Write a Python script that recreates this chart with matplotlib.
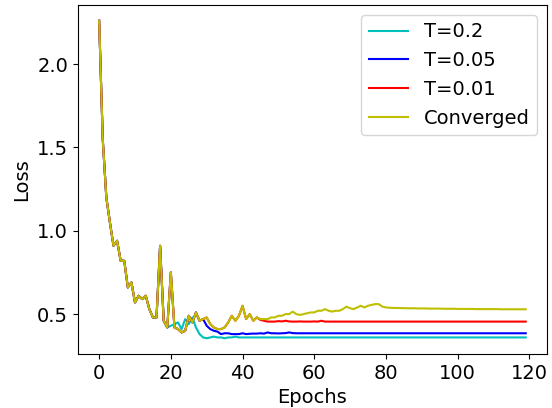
import matplotlib
matplotlib.use('Agg')
import matplotlib.pyplot as plt

# loss per epoch
converged = [
    2.26, 1.55, 1.20, 1.05, 0.91, 0.94, 0.82, 0.82, 0.66, 0.69,
    0.57, 0.61, 0.59, 0.61, 0.53, 0.48, 0.48, 0.91, 0.46, 0.42,
    0.75, 0.42, 0.41, 0.39, 0.40, 0.49, 0.45, 0.51, 0.46, 0.47,
    0.48, 0.44, 0.42, 0.41, 0.41, 0.42, 0.45, 0.49, 0.46, 0.49,
    0.55, 0.47, 0.50, 0.46, 0.48, 0.47, 0.47, 0.47, 0.48, 0.48,
    0.49, 0.49, 0.50, 0.50, 0.515, 0.50, 0.495, 0.50, 0.505, 0.51,
    0.51, 0.52, 0.52, 0.53, 0.52, 0.515, 0.52, 0.52, 0.53, 0.545,
    0.535, 0.53, 0.54, 0.55, 0.54, 0.55, 0.555, 0.56, 0.56, 0.545,
    0.54, 0.538, 0.537, 0.537, 0.536, 0.536, 0.535, 0.535, 0.535, 0.534,
    0.534, 0.534, 0.533, 0.533, 0.533, 0.533, 0.532, 0.532, 0.532, 0.532,
    0.531, 0.531, 0.531, 0.531, 0.531, 0.530, 0.530, 0.530, 0.530, 0.530,
    0.530, 0.530, 0.529, 0.529, 0.529, 0.529, 0.529, 0.529, 0.529, 0.529,
]

# each T run follows the converged run up to where it splits off
t02_split = 20
t02_tail = [
    0.43, 0.44, 0.45, 0.41, 0.47, 0.44, 0.48, 0.42, 0.38, 0.36,
    0.355, 0.36, 0.365, 0.36, 0.36, 0.355, 0.36, 0.36, 0.365, 0.36,
] + [0.36] * 80

t005_split = 30
t005_tail = [
    0.43, 0.41, 0.40, 0.395, 0.38, 0.385, 0.385, 0.38, 0.38, 0.38,
    0.385, 0.38, 0.382, 0.383, 0.383, 0.385, 0.383, 0.39, 0.385, 0.385,
    0.384, 0.385, 0.386, 0.39, 0.386, 0.385,
] + [0.385] * 64

t001_split = 45
t001_tail = [
    0.465, 0.46, 0.455, 0.455, 0.455, 0.458, 0.456, 0.46, 0.456, 0.455,
    0.455, 0.456, 0.455, 0.455, 0.455, 0.456, 0.455, 0.46, 0.455, 0.455,
] + [0.455] * 55

t02 = converged[:t02_split] + t02_tail
t005 = converged[:t005_split] + t005_tail
t001 = converged[:t001_split] + t001_tail
epochs = list(range(len(converged)))

fig = plt.figure(figsize=(5.52, 4.08), dpi=100)
ax = fig.add_axes([0.141, 0.132, 0.85, 0.856])

ax.plot(epochs, t02, color='c', lw=1.5, label='T=0.2')
ax.plot(epochs, t005, color='b', lw=1.5, label='T=0.05')
ax.plot(epochs, t001, color='r', lw=1.5, label='T=0.01')
ax.plot(epochs, converged, color='y', lw=1.5, label='Converged')

ax.set_xlabel('Epochs', fontsize=14)
ax.set_ylabel('Loss', fontsize=14)
ax.tick_params(labelsize=14)
ax.legend(loc='upper right', fontsize=14)

fig.savefig('out.png', dpi=100)
